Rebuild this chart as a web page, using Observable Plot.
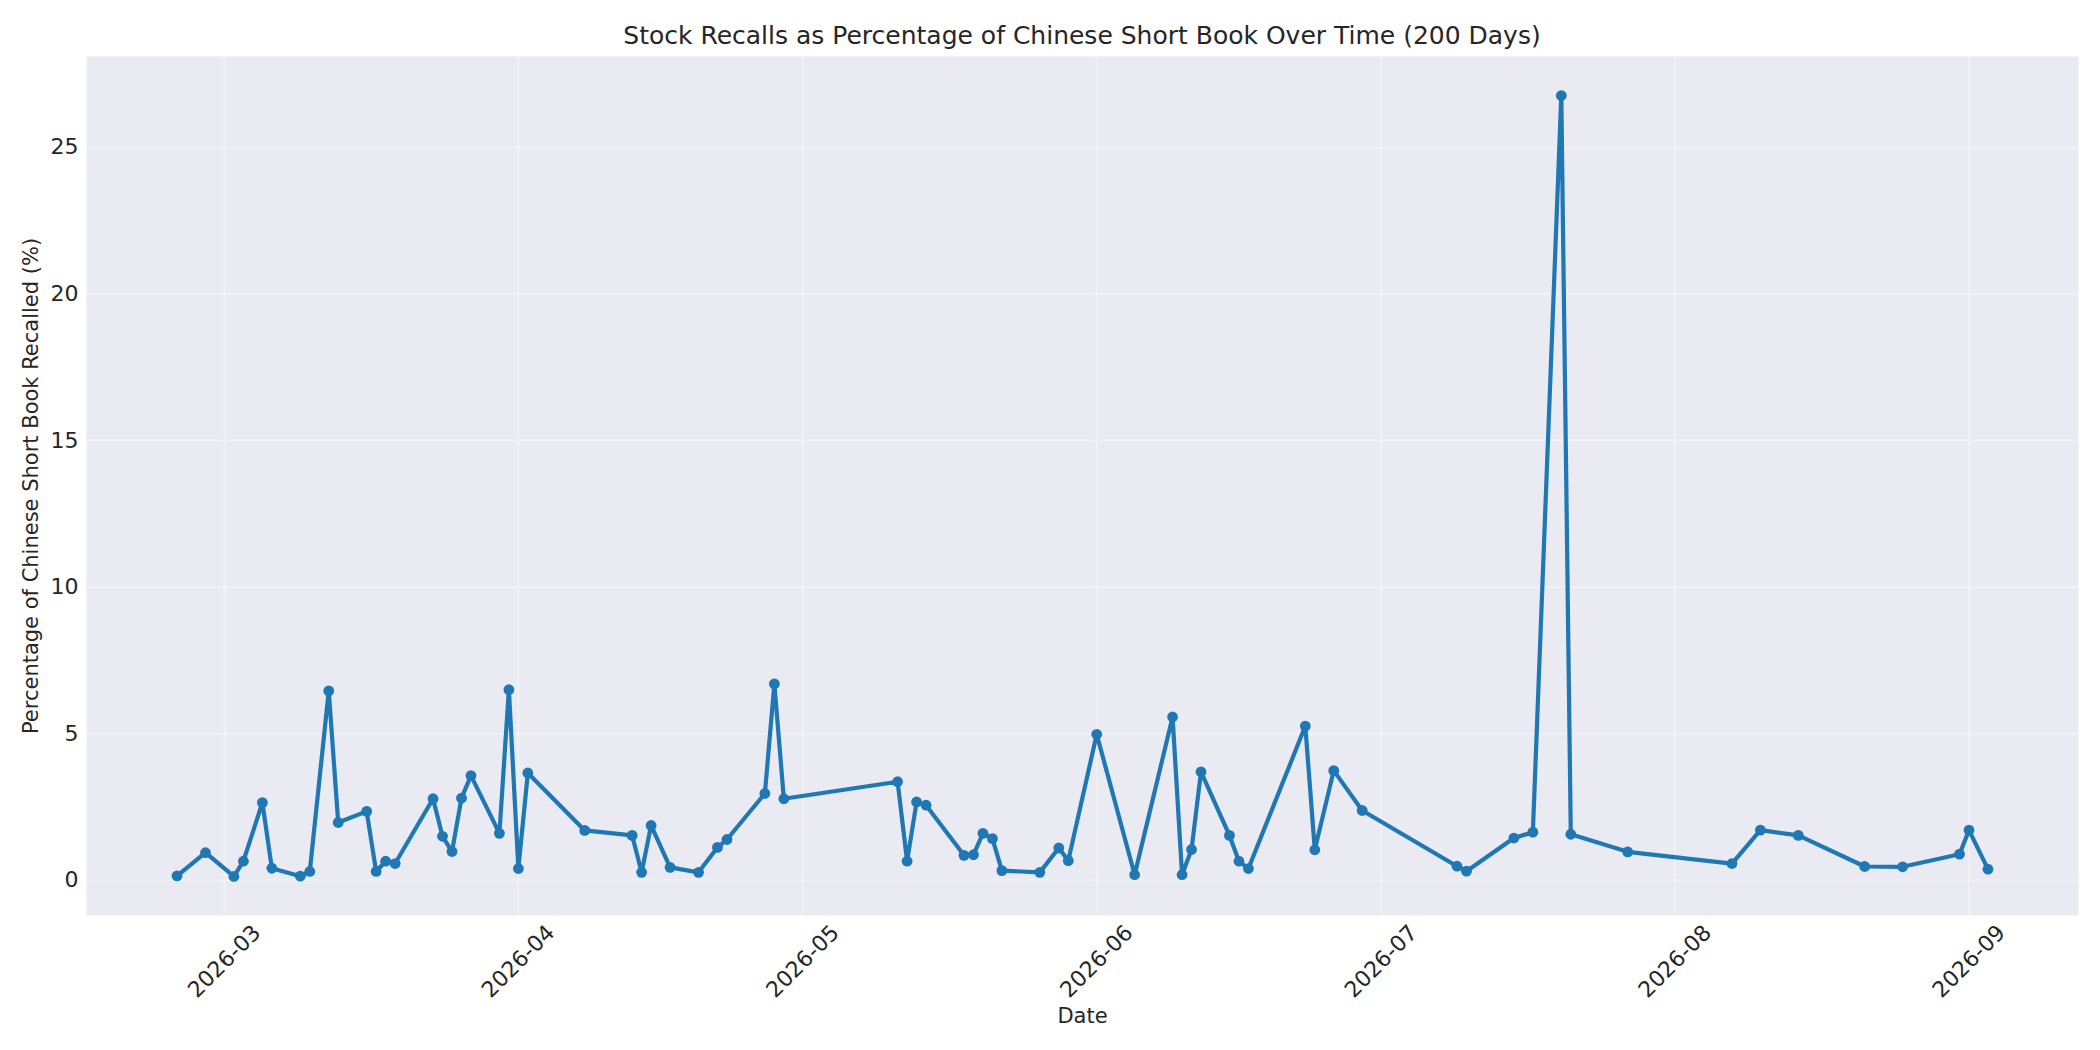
<!DOCTYPE html>
<html>
<head>
<meta charset="utf-8">
<script src="https://cdn.jsdelivr.net/npm/d3@7"></script>
<script src="https://cdn.jsdelivr.net/npm/@observablehq/plot@0.6"></script>
<style>
  html, body { margin: 0; padding: 0; background: #ffffff; }
  body { width: 2100px; height: 1050px; overflow: hidden; font-family: "DejaVu Sans", sans-serif; color: #262626; }
  #title { position: relative; width: 2100px; height: 56px; }
  #title span { position: absolute; left: 1082px; top: 35px; transform: translate(-50%, -50%); font-size: 25px; white-space: nowrap; color: #262626; }
</style>
</head>
<body>
<div id="title"><span>Stock Recalls as Percentage of Chinese Short Book Over Time (200 Days)</span></div>
<div id="chart"></div>
<script>
const dates = [
  "2026-02-24","2026-02-27","2026-03-02","2026-03-03","2026-03-05","2026-03-06","2026-03-09","2026-03-10",
  "2026-03-12","2026-03-13","2026-03-16","2026-03-17","2026-03-18","2026-03-19","2026-03-23","2026-03-24",
  "2026-03-25","2026-03-26","2026-03-27","2026-03-30","2026-03-31","2026-04-01","2026-04-02","2026-04-08",
  "2026-04-13","2026-04-14","2026-04-15","2026-04-17","2026-04-20","2026-04-22","2026-04-23","2026-04-27",
  "2026-04-28","2026-04-29","2026-05-11","2026-05-12","2026-05-13","2026-05-14","2026-05-18","2026-05-19",
  "2026-05-20","2026-05-21","2026-05-22","2026-05-26","2026-05-28","2026-05-29","2026-06-01","2026-06-05",
  "2026-06-09","2026-06-10","2026-06-11","2026-06-12","2026-06-15","2026-06-16","2026-06-17","2026-06-23",
  "2026-06-24","2026-06-26","2026-06-29","2026-07-09","2026-07-10","2026-07-15","2026-07-17","2026-07-20",
  "2026-07-21","2026-07-27","2026-08-07","2026-08-10","2026-08-14","2026-08-21","2026-08-25","2026-08-31",
  "2026-09-01","2026-09-03"
];
const recallPct = [
  0.15, 0.94, 0.13, 0.65, 2.65, 0.41, 0.14, 0.30,
  6.46, 1.97, 2.35, 0.30, 0.65, 0.57, 2.78, 1.50,
  0.98, 2.80, 3.57, 1.60, 6.50, 0.40, 3.66, 1.70,
  1.53, 0.27, 1.87, 0.44, 0.27, 1.12, 1.39, 2.96,
  6.70, 2.78, 3.36, 0.65, 2.67, 2.56, 0.85, 0.87,
  1.60, 1.42, 0.33, 0.27, 1.10, 0.67, 4.98, 0.19,
  5.57, 0.19, 1.05, 3.70, 1.53, 0.65, 0.40, 5.26,
  1.04, 3.74, 2.38, 0.48, 0.31, 1.44, 1.64, 26.77,
  1.57, 0.97, 0.57, 1.71, 1.53, 0.47, 0.46, 0.89,
  1.71, 0.38
];
const monthTickLabels = ["2026-03","2026-04","2026-05","2026-06","2026-07","2026-08","2026-09"];
const yTicks = [0, 5, 10, 15, 20, 25];

const data = dates.map((d, i) => ({date: new Date(d + "T00:00:00Z"), value: recallPct[i]}));
const monthTicks = monthTickLabels.map(m => new Date(m + "-01T00:00:00Z"));

// matplotlib-style 5% margins
const [t0, t1] = d3.extent(data, d => d.date);
const tPad = (t1 - t0) * 0.05;
const [v0, v1] = d3.extent(data, d => d.value);
const vPad = (v1 - v0) * 0.05;

const fmt = d3.utcFormat("%Y-%m");

const chart = Plot.plot({
  width: 2100,
  height: 994,
  marginTop: 0,
  marginLeft: 86,
  marginRight: 22,
  marginBottom: 135,
  style: {fontFamily: "DejaVu Sans, sans-serif", color: "#262626", background: "transparent"},
  x: {type: "utc", domain: [new Date(+t0 - tPad), new Date(+t1 + tPad)]},
  y: {domain: [v0 - vPad, v1 + vPad]},
  marks: [
    Plot.frame({fill: "#EAEAF2", stroke: "none"}),
    Plot.gridY(yTicks, {stroke: "white", strokeOpacity: 0.32, strokeWidth: 2}),
    Plot.gridX(monthTicks, {stroke: "white", strokeOpacity: 0.32, strokeWidth: 2}),
    Plot.axisY(yTicks, {
      tickSize: 0, tickPadding: 8, fontSize: 22,
      label: null
    }),
    Plot.text(["Percentage of Chinese Short Book Recalled (%)"], {
      frameAnchor: "left", dx: -55, rotate: -90, textAnchor: "middle", lineAnchor: "middle",
      fontSize: 21, fill: "#262626"
    }),
    Plot.axisX([], {label: null}),
    Plot.text(monthTicks, {
      x: d => d, text: d => fmt(d), frameAnchor: "bottom", dy: 46,
      rotate: -45, textAnchor: "middle", lineAnchor: "middle", fontSize: 22, fill: "#262626"
    }),
    Plot.text(["Date"], {frameAnchor: "bottom", dy: 101, lineAnchor: "middle", fontSize: 21, fill: "#262626"}),
    Plot.line(data, {x: "date", y: "value", stroke: "#1f77b4", strokeWidth: 4.2, strokeLinejoin: "round"}),
    Plot.dot(data, {x: "date", y: "value", r: 5.4, fill: "#1f77b4", stroke: "none"})
  ]
});
document.getElementById("chart").appendChild(chart);
</script>
</body>
</html>
